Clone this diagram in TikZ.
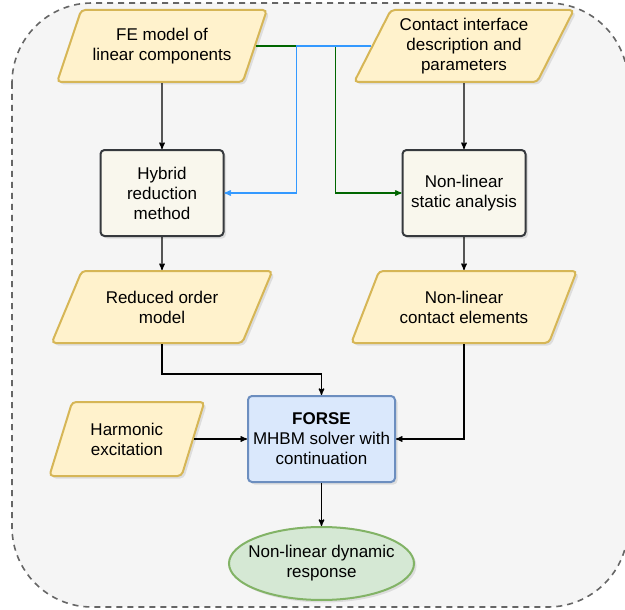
\documentclass[tikz,border=0pt]{standalone}
\usepackage{fontspec}
\setmainfont{Liberation Sans}
\usepackage{tikz}
\usetikzlibrary{arrows, positioning, shapes.geometric, shadows}
\definecolor{paraFill}{HTML}{FFF2CC}
\definecolor{paraLine}{HTML}{D6B656}
\definecolor{boxFill}{HTML}{F9F7ED}
\definecolor{boxLine}{HTML}{36393D}
\definecolor{solverFill}{HTML}{DAE8FC}
\definecolor{solverLine}{HTML}{6C8EBF}
\definecolor{outFill}{HTML}{D5E8D4}
\definecolor{outLine}{HTML}{82B366}
\definecolor{bgFill}{HTML}{F5F5F5}
\definecolor{bgLine}{HTML}{666666}
\definecolor{linkBlue}{HTML}{3399FF}
\definecolor{linkGreen}{HTML}{006600}

\begin{document}
\begin{tikzpicture}[x=1pt, y=-1pt, >=stealth', font=\fontsize{17}{20}\selectfont,
    shade/.style={drop shadow={shadow xshift=2.5pt, shadow yshift=-2.5pt, opacity=0.2}},
    para/.style={trapezium, trapezium left angle=60, trapezium right angle=120, trapezium stretches=true,
        minimum width=210pt, minimum height=72pt, inner sep=0pt, align=center,
        draw=paraLine, fill=paraFill, line width=2pt, rounded corners=4pt, shade},
    block/.style={rectangle, minimum width=123pt, minimum height=86pt, inner sep=2pt, align=center,
        draw=boxLine, fill=boxFill, line width=2pt, rounded corners=4pt, shade},
    solver/.style={block, minimum width=147pt, draw=solverLine, fill=solverFill},
    result/.style={ellipse, minimum width=185pt, minimum height=73pt, inner xsep=-12pt, inner ysep=0pt, align=center,
        draw=outLine, fill=outFill, line width=2pt, shade},
    link/.style={->, line width=1.3pt},
    frame/.style={draw=bgLine, fill=bgFill, line width=1.6pt, dash pattern=on 6pt off 5pt, rounded corners=80pt}]
    \useasboundingbox (0,0) rectangle (625,610);
    \path[frame] (12,3) rectangle (628,607);

    \node[para] (fe) at (162,46) {FE model of\\linear components};
    \node[para, minimum width=220pt] (cid) at (464,46) {Contact interface\\description and\\parameters};
    \node[block] (hyb) [below=66pt of fe] {Hybrid\\reduction\\method};
    \node[block] (nls) [below=66pt of cid] {Non-linear\\static analysis};
    \node[para, minimum width=221pt, trapezium left angle=57, trapezium right angle=123] (rom) [below=33pt of hyb] {Reduced order\\model};
    \node[para, minimum width=226pt, trapezium left angle=57, trapezium right angle=123] (nlc) [below=33pt of nls] {Non-linear\\contact elements};
    \node[solver] (forse) at (321.5,439) {\textbf{FORSE}\\MHBM solver with\\continuation};
    \node[para, minimum width=155pt, minimum height=74pt, trapezium left angle=65, trapezium right angle=115] (harm) [left=53pt of forse] {Harmonic\\excitation};
    \node[result] (resp) [below=43pt of forse] {Non-linear dynamic\\response};

    \draw[link] (fe) -- (hyb);
    \draw[link] (cid) -- (nls);
    \draw[link, linkGreen] (fe.east) -| ([xshift=-66pt]nls.west) -- (nls.west);
    \draw[link, linkBlue] (cid.west) -| ([xshift=72pt]hyb.east) -- (hyb.east);
    \draw[link] (hyb) -- (rom);
    \draw[link] (nls) -- (nlc);
    \draw[link] (rom.south) -- ++(0,30) -| (forse.north);
    \draw[link] (nlc.south) |- (forse.east);
    \draw[link] (harm.east) -- (forse.west);
    \draw[link] (forse) -- (resp);
\end{tikzpicture}
\end{document}
